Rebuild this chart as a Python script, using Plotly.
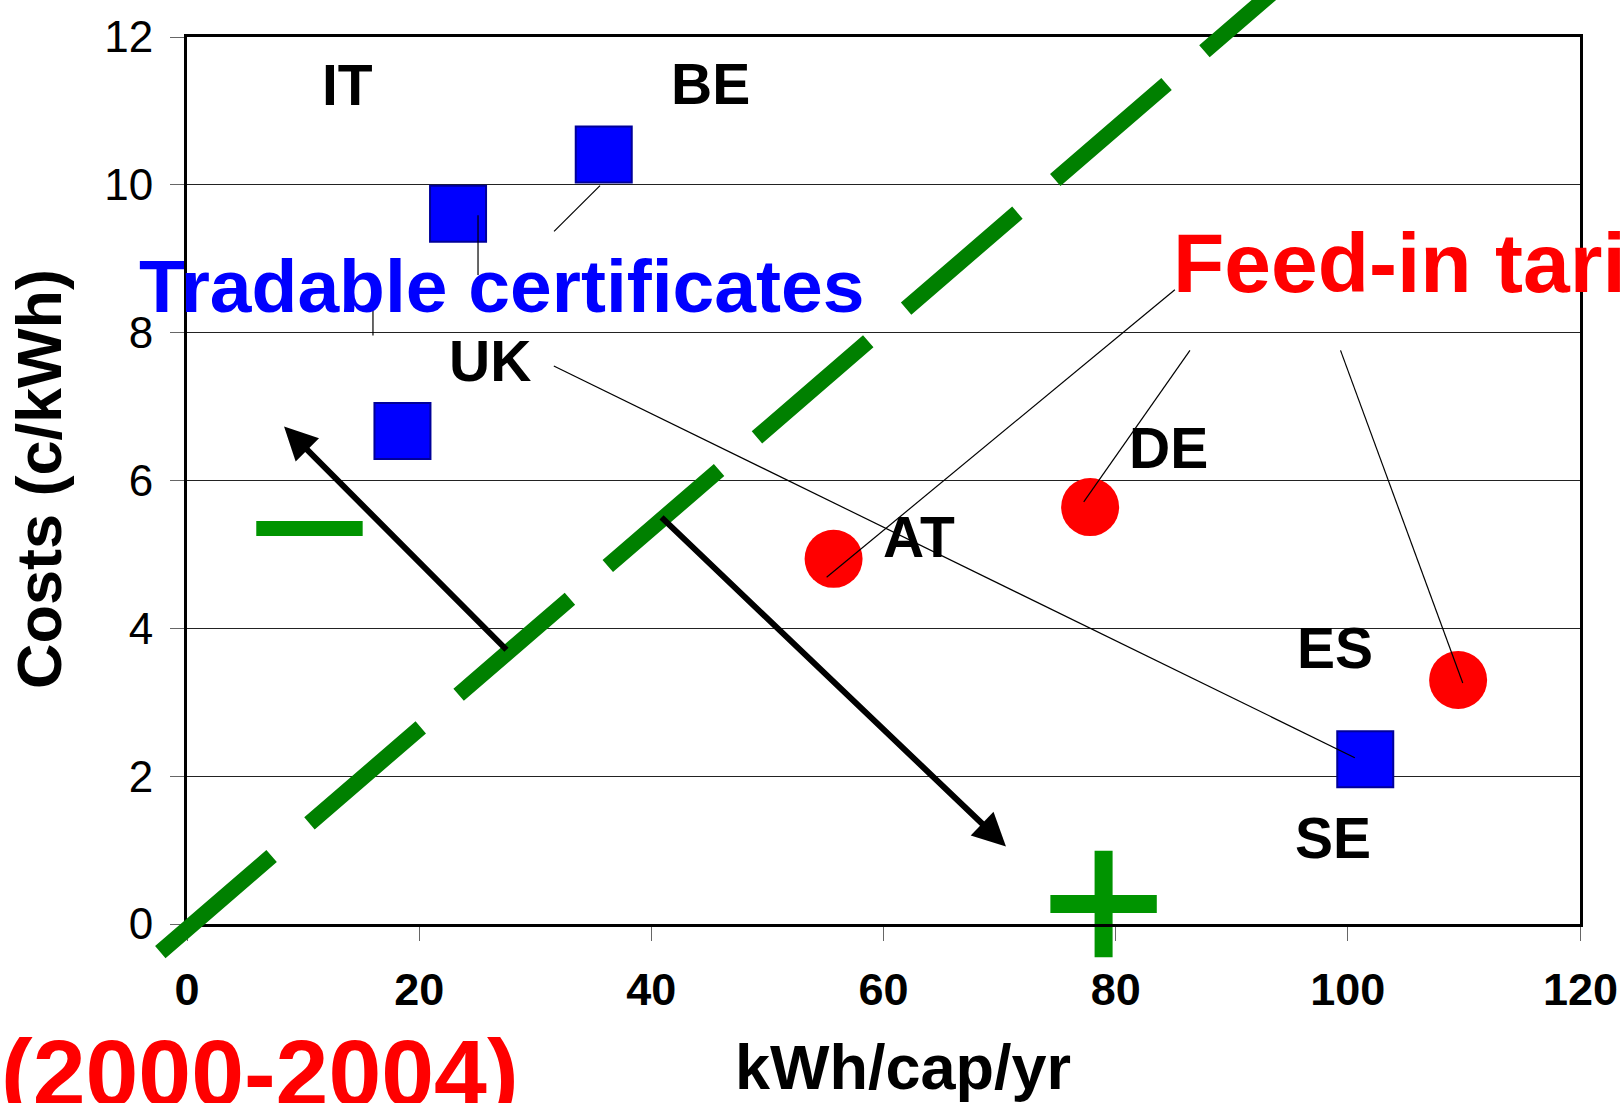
import plotly.graph_objects as go

# ---------------- data ----------------
x_range = [0, 120]
y_range = [0, 12]
x_ticks = [0, 20, 40, 60, 80, 100, 120]
y_ticks = [0, 2, 4, 6, 8, 10, 12]

# Tradable certificates countries (blue squares)
tc_countries = ["IT", "BE", "UK", "SE"]
tc_x = [23.35, 35.9, 18.56, 101.5]
tc_y = [9.61, 10.41, 6.67, 2.23]

# Feed-in tariff countries (red circles)
fit_countries = ["AT", "DE", "ES"]
fit_x = [55.7, 77.8, 109.5]
fit_y = [4.94, 5.64, 3.30]

# country labels
label_text = ["IT", "BE", "UK", "AT", "DE", "ES", "SE"]
label_x = [13.83, 45.08, 26.06, 63.04, 84.56, 98.86, 98.73]
label_y = [11.35, 11.36, 7.62, 5.23, 6.44, 3.73, 1.16]

# thin leader lines (start -> end)
leader_x0 = [25.07, 16.02, 35.58, 31.6, 85.1, 86.4, 99.37]
leader_y0 = [9.59, 8.30, 9.99, 7.55, 8.58, 7.76, 7.76]
leader_x1 = [25.07, 16.02, 31.62, 100.6, 55.1, 77.25, 109.9]
leader_y1 = [8.78, 7.96, 9.37, 2.25, 4.69, 5.71, 3.26]

# thick trend arrows (tail -> head)
arrow_tail_x = [27.65, 40.75]
arrow_tail_y = [3.69, 5.52]
arrow_head_x = [8.36, 70.55]
arrow_head_y = [6.73, 1.05]

# dashed diagonal divider
diag_x = [-2.3, 93.5]
diag_y = [-0.38, 12.6]

# minus / plus signs
sign_symbol = ["line-ew", "cross-thin"]
sign_x = [10.55, 78.96]
sign_y = [5.35, 0.27]

# text annotations positioned in data units
tc_title = "Tradable certificates"
tc_title_xy = [27.05, 8.63]
fit_title = "Feed-in tariffs"
fit_title_xy = [84.75, 8.94]
period_text = "(2000-2004)"
period_xy = [-16.2, -2.01]
x_title = "kWh/cap/yr"
x_title_xy = [61.68, -1.93]
y_title = "Costs (c/kWh)"
y_title_xy = [-12.75, 6.02]

FONT = "Liberation Sans, Arial, Helvetica, sans-serif"


def px(x):
    return (x - x_range[0]) / (x_range[1] - x_range[0])


def py(y):
    return (y - y_range[0]) / (y_range[1] - y_range[0])


fig = go.Figure()

fig.add_trace(go.Scatter(
    x=tc_x, y=tc_y, mode="markers", text=tc_countries,
    marker=dict(symbol="square", size=56, color="#0000FF", opacity=1,
                line=dict(color="#000099", width=2)),
    cliponaxis=False, showlegend=False, hoverinfo="text"))

fig.add_trace(go.Scatter(
    x=fit_x, y=fit_y, mode="markers", text=fit_countries,
    marker=dict(symbol="circle", size=58, color="#FF0000", opacity=1, line=dict(width=0)),
    cliponaxis=False, showlegend=False, hoverinfo="text"))

fig.add_trace(go.Scatter(
    x=sign_x, y=sign_y, mode="markers",
    marker=dict(symbol=sign_symbol, size=76, color="#009400", opacity=1,
                line=dict(color="#009400", width=[15, 18])),
    cliponaxis=False, showlegend=False, hoverinfo="skip"))

shapes = []
# dashed diagonal (paper refs so it can leave the plot area)
shapes.append(dict(type="line", xref="paper", yref="paper",
                   x0=px(diag_x[0]), y0=py(diag_y[0]),
                   x1=px(diag_x[1]), y1=py(diag_y[1]),
                   line=dict(color="#008000", width=16, dash="147px,50px"),
                   layer="above"))
for x0, y0, x1, y1 in zip(leader_x0, leader_y0, leader_x1, leader_y1):
    shapes.append(dict(type="line", xref="x", yref="y", x0=x0, y0=y0, x1=x1, y1=y1,
                       line=dict(color="black", width=1.2), layer="above"))

annotations = []
for t, x, y in zip(label_text, label_x, label_y):
    annotations.append(dict(text=t, x=x, y=y, xref="x", yref="y", showarrow=False,
                            xanchor="center", yanchor="middle",
                            font=dict(family=FONT, size=57, color="black", weight="bold")))

for tx, ty, hx, hy in zip(arrow_tail_x, arrow_tail_y, arrow_head_x, arrow_head_y):
    annotations.append(dict(text="", x=hx, y=hy, ax=tx, ay=ty, xref="x", yref="y",
                            axref="x", ayref="y", showarrow=True, arrowhead=2,
                            arrowsize=1.1, arrowwidth=6, arrowcolor="black",
                            standoff=0))

annotations.append(dict(text=tc_title, x=px(tc_title_xy[0]), y=py(tc_title_xy[1]),
                        xref="paper", yref="paper", showarrow=False,
                        xanchor="center", yanchor="middle",
                        font=dict(family=FONT, size=75, color="#0000FF", weight="bold")))
annotations.append(dict(text=fit_title, x=px(fit_title_xy[0]), y=py(fit_title_xy[1]),
                        xref="paper", yref="paper", showarrow=False,
                        xanchor="left", yanchor="middle",
                        font=dict(family=FONT, size=84, color="#FF0000", weight="bold")))
annotations.append(dict(text=period_text, x=px(period_xy[0]), y=py(period_xy[1]),
                        xref="paper", yref="paper", showarrow=False,
                        xanchor="left", yanchor="middle",
                        font=dict(family=FONT, size=95, color="#FF0000", weight="bold")))
annotations.append(dict(text=x_title, x=px(x_title_xy[0]), y=py(x_title_xy[1]),
                        xref="paper", yref="paper", showarrow=False,
                        xanchor="center", yanchor="middle",
                        font=dict(family=FONT, size=63, color="black", weight="bold")))
annotations.append(dict(text=y_title, x=px(y_title_xy[0]), y=py(y_title_xy[1]),
                        xref="paper", yref="paper", showarrow=False, textangle=-90,
                        xanchor="center", yanchor="middle",
                        font=dict(family=FONT, size=63, color="black", weight="bold")))

# last x tick label drawn as annotation (so it is not dropped near the page edge)
x_tick_text = [str(v) for v in x_ticks[:-1]] + [""]
annotations.append(dict(text=str(x_ticks[-1]), x=px(x_ticks[-1]), y=0, xref="paper",
                        yref="paper", yshift=-65, showarrow=False,
                        xanchor="center", yanchor="middle",
                        font=dict(family=FONT, size=45, color="black", weight="bold")))

fig.update_layout(
    width=1622, height=1103, autosize=False,
    margin=dict(l=187, r=42, t=33, b=179, pad=0),
    paper_bgcolor="white", plot_bgcolor="white",
    showlegend=False,
    shapes=shapes, annotations=annotations,
    xaxis=dict(range=x_range, tickvals=x_ticks, ticktext=x_tick_text,
               showgrid=False, zeroline=False,
               showline=True, mirror=True, linecolor="black", linewidth=3,
               ticks="outside", ticklen=14, tickcolor="#666", tickwidth=1,
               ticklabelstandoff=10,
               tickfont=dict(family=FONT, size=45, color="black", weight="bold")),
    yaxis=dict(range=y_range, tickvals=y_ticks, showgrid=True, gridcolor="#222",
               gridwidth=1, zeroline=False,
               showline=True, mirror=True, linecolor="black", linewidth=3,
               ticks="outside", ticklen=14, tickcolor="#666", tickwidth=1,
               ticklabelstandoff=8,
               tickfont=dict(family=FONT, size=44, color="black")),
)

fig.write_html("out.html", config={"displayModeBar": False, "responsive": False},
               post_script="document.documentElement.style.overflow='hidden';"
                           "document.body.style.margin='0';document.body.style.overflow='hidden';")
